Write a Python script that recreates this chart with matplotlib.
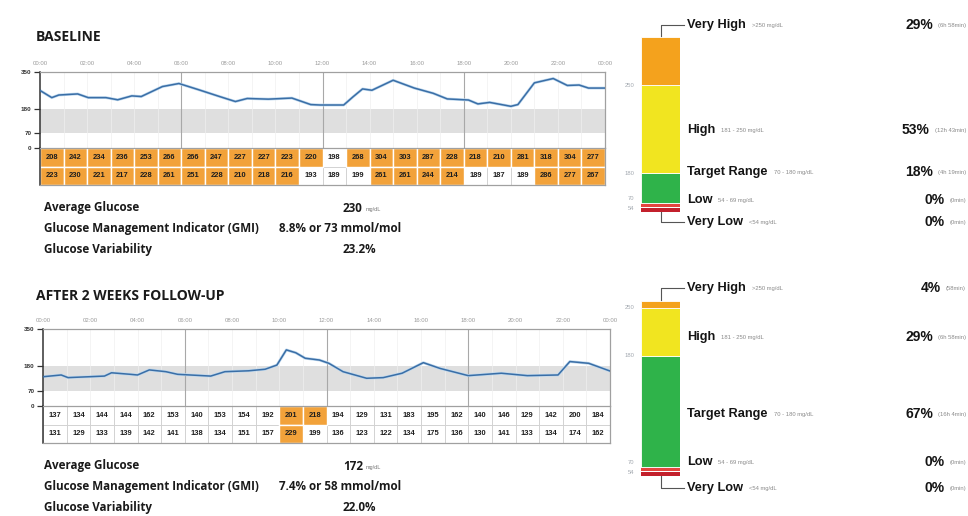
import matplotlib
matplotlib.use("Agg")
import matplotlib.pyplot as plt
from matplotlib.patches import Rectangle

plt.rcParams['font.family'] = ['Liberation Sans', 'DejaVu Sans']

# ---------------- data ----------------
time_labels = ["00:00", "02:00", "04:00", "06:00", "08:00", "10:00", "12:00",
               "14:00", "16:00", "18:00", "20:00", "22:00", "00:00"]
y_ticks = [0, 70, 180, 350]
target_low, target_high = 70, 180
cell_threshold = 200

base_hours = [0.0, 0.5, 0.8, 1.6, 2.05, 2.8, 3.3, 3.9, 4.3, 5.2, 5.9, 6.75, 7.6,
              8.3, 8.8, 9.7, 10.7, 11.5, 11.9, 12.9, 13.3, 13.7, 14.1, 15.0, 15.9,
              16.7, 17.3, 18.2, 18.6, 19.1, 20.0, 20.3, 21.0, 21.8, 22.4, 22.9,
              23.3, 24.0]
base_glucose = [265, 232, 244, 249, 232, 232, 222, 240, 237, 283, 297, 268, 238,
                214, 228, 225, 230, 200, 198, 198, 236, 272, 266, 312, 276,
                252, 226, 221, 203, 210, 192, 200, 300, 320, 288, 290,
                276, 276]
base_row1 = [208, 242, 234, 236, 253, 266, 266, 247, 227, 227, 223, 220,
             198, 268, 304, 303, 287, 228, 218, 210, 281, 318, 304, 277]
base_row2 = [223, 230, 221, 217, 228, 261, 251, 228, 210, 218, 216, 193,
             189, 199, 261, 261, 244, 214, 189, 187, 189, 286, 277, 267]

follow_hours = [0.0, 0.77, 1.06, 2.6, 2.9, 3.7, 4.0, 4.5, 5.2, 5.7, 7.1, 7.7,
                8.7, 9.4, 9.9, 10.3, 10.7, 11.1, 11.7, 12.1, 12.7, 13.7, 14.4,
                15.2, 16.1, 16.8, 18.0, 19.4, 20.5, 21.8, 22.3, 23.1, 24.0]
follow_glucose = [133, 141, 129, 136, 151, 144, 141, 164, 156, 144, 136, 156,
                  160, 167, 186, 255, 242, 217, 209, 194, 156, 126, 129,
                  149, 197, 171, 138, 149, 138, 141, 202, 194, 159]
follow_row1 = [137, 134, 144, 144, 162, 153, 140, 153, 154, 192, 201, 218,
               194, 129, 131, 183, 195, 162, 140, 146, 129, 142, 200, 184]
follow_row2 = [131, 129, 133, 139, 142, 141, 138, 134, 151, 157, 229, 199,
               136, 123, 122, 134, 175, 136, 130, 141, 133, 134, 174, 162]

stat_labels = ["Average Glucose", "Glucose Management Indicator (GMI)",
               "Glucose Variability"]
base_stats = ["230", "8.8% or 73 mmol/mol", "23.2%"]
follow_stats = ["172", "7.4% or 58 mmol/mol", "22.0%"]
avg_unit = "mg/dL"

range_names = ["Very High", "High", "Target Range", "Low", "Very Low"]
range_limits = [">250 mg/dL", "181 - 250 mg/dL", "70 - 180 mg/dL",
                "54 - 69 mg/dL", "<54 mg/dL"]
range_colors = ["#f4a21d", "#f1e520", "#2fb34a", "#e4453f", "#c3202c"]
range_bounds = ["250", "180", "70", "54"]
base_pct = [29, 53, 18, 0, 0]
base_time = ["(6h 58min)", "(12h 43min)", "(4h 19min)", "(0min)", "(0min)"]
follow_pct = [4, 29, 67, 0, 0]
follow_time = ["(58min)", "(6h 58min)", "(16h 4min)", "(0min)", "(0min)"]

# ---------------- figure ----------------
W, H = 968, 516
fig = plt.figure(figsize=(W / 100, H / 100), dpi=100)
fig.patch.set_facecolor("white")
renderer = fig.canvas.get_renderer()


def px_axes(x0, y0, x1, y1):
    return fig.add_axes([x0 / W, 1 - y1 / H, (x1 - x0) / W, (y1 - y0) / H])


BLUE = "#3a6ea6"
HALO = "#bcd7ee"
ORANGE = "#f2a23a"
GRID = "#a0a0a0"


def draw_profile(x0, x1, y_top, y_zero, y_bottom, hours, glucose, row1, row2):
    ax = px_axes(x0, y_top, x1, y_zero)
    ax.set_xlim(0, 24)
    ax.set_ylim(0, 350)
    ax.axhspan(target_low, target_high, color="#dfdfdf", lw=0, zorder=0)
    for h in range(1, 24):
        ax.axvline(h, color="#f0f0f0", lw=0.5, zorder=0.5)
    for h in (6, 12, 18):
        ax.axvline(h, color="#a8a8a8", lw=0.8, zorder=1)
    ax.plot(hours, glucose, color=HALO, lw=2.0, solid_capstyle="round", zorder=2)
    ax.plot(hours, glucose, color=BLUE, lw=1.1, zorder=3)
    ax.xaxis.tick_top()
    ax.set_xticks(range(0, 25, 2))
    ax.set_xticklabels(time_labels, fontsize=4.3, color="#9a9a9a")
    ax.tick_params(axis="x", length=0, pad=4)
    ax.set_yticks(y_ticks)
    ax.set_yticklabels([str(v) for v in y_ticks], fontsize=4.5, color="#333333",
                       fontweight="bold")
    ax.tick_params(axis="y", length=4, width=0.9, color="#333333", pad=2)
    ax.spines["bottom"].set_visible(False)
    for s in ("top", "right"):
        ax.spines[s].set_color(GRID)
        ax.spines[s].set_linewidth(0.9)
    ax.spines["left"].set_color("#333333")
    ax.spines["left"].set_linewidth(1.1)

    tb = px_axes(x0, y_zero, x1, y_bottom)
    tb.set_xlim(0, 24)
    tb.set_ylim(0, 2)
    tb.set_xticks([])
    tb.set_yticks([])
    for r, row in ((1, row1), (0, row2)):
        for i, v in enumerate(row):
            if v <= cell_threshold:
                tb.add_patch(Rectangle((i, r), 1, 1, facecolor="white",
                                       edgecolor="#cfcfcf", lw=0.6, zorder=1))
        for i, v in enumerate(row):
            if v > cell_threshold:
                tb.add_patch(Rectangle((i, r), 1, 1, facecolor=ORANGE,
                                       edgecolor="white", lw=1.0, zorder=2))
        for i, v in enumerate(row):
            tb.text(i + 0.5, r + 0.5, str(v), ha="center", va="center",
                    fontsize=5.4, fontweight="bold", color="#1e1e1e", zorder=3)
    for s in ("top", "right", "bottom"):
        tb.spines[s].set_color(GRID)
        tb.spines[s].set_linewidth(0.9)
    tb.spines["left"].set_color("#333333")
    tb.spines["left"].set_linewidth(1.1)
    return ax


def draw_stats(ov, y_first, values):
    for k, (lab, val) in enumerate(zip(stat_labels, values)):
        y = y_first + k * 20.7
        ov.text(44, y, lab, fontsize=8.4, fontweight="bold", family="Open Sans",
                color="#1a1a1a", va="center", ha="left")
        xv = 279 if k == 1 else 343
        t = ov.text(xv, y, val, fontsize=8.4, fontweight="bold", family="Open Sans",
                    color="#1a1a1a", va="center", ha="left")
        if k == 0:
            bb = t.get_window_extent(renderer)
            ov.text(bb.x1 + 3, y + 1, avg_unit, fontsize=4, color="#777777",
                    va="center", ha="left")


def draw_ranges(ov, top, pct, times, label_ys):
    bar_x0, bar_x1 = 641, 680
    unit_px = 1.66
    lo_ext = 5.6
    bottom = top + (100 + lo_ext) * unit_px
    bx = px_axes(bar_x0, top, bar_x1, bottom)
    bx.set_xlim(0, 1)
    bx.set_ylim(-lo_ext, 100)
    bx.axis("off")
    # stacked main ranges: target at the base, very high on top
    base = 0
    for idx in (2, 1, 0):
        bx.bar(0.5, pct[idx], bottom=base, width=1.0, color=range_colors[idx],
               edgecolor="white", lw=0.6)
        base += pct[idx]
    # zero-share low ranges drawn as thin stripes below the stack
    bx.bar(0.5, 2.0, bottom=-2.6, width=1.0, color=range_colors[3], lw=0)
    bx.bar(0.5, 2.0, bottom=-5.2, width=1.0, color=range_colors[4], lw=0)

    def yp(v):
        return top + (100 - v) * unit_px

    # boundary labels on the left of the bar
    bounds_y = [yp(pct[2] + pct[1]), yp(pct[2]), yp(0) - 4, yp(-3.2)]
    for txt, y in zip(range_bounds, bounds_y):
        ov.text(634, y, txt, fontsize=4.2, color="#a3a9b0", ha="right", va="center")

    xc = (bar_x0 + bar_x1) / 2
    ov.plot([xc, xc, 684], [top, label_ys[0], label_ys[0]], color="#555555", lw=0.8)
    ov.plot([xc, xc, 684], [bottom, label_ys[4], label_ys[4]], color="#555555", lw=0.8)

    for k in range(5):
        y = label_ys[k]
        t = ov.text(687, y, range_names[k], fontsize=9.2, fontweight="bold",
                    color="#141414", ha="left", va="center")
        bb = t.get_window_extent(renderer)
        ov.text(bb.x1 + 6, y + 0.5, range_limits[k], fontsize=4.2, color="#8a8a8a",
                ha="left", va="center")
        tt = ov.text(966, y + 0.5, times[k], fontsize=4.2, color="#8a8a8a",
                     ha="right", va="center")
        bt = tt.get_window_extent(renderer)
        ov.text(bt.x0 - 5, y, f"{pct[k]}%", fontsize=10, fontweight="bold",
                color="#141414", ha="right", va="center")


# overlay in pixel coordinates for free text and leader lines
ov = fig.add_axes([0, 0, 1, 1])
ov.set_xlim(0, W)
ov.set_ylim(H, 0)
ov.axis("off")
ov.patch.set_alpha(0)

ov.text(36, 37, "BASELINE", fontsize=10, fontweight="bold", family="Open Sans",
        color="#1a1a1a", va="center", ha="left")
ov.text(36, 296, "AFTER 2 WEEKS FOLLOW-UP", fontsize=10, fontweight="bold",
        family="Open Sans", color="#1a1a1a", va="center", ha="left")

draw_profile(40, 605, 72, 148, 185, base_hours, base_glucose, base_row1, base_row2)
draw_profile(43, 610, 329, 406, 443, follow_hours, follow_glucose,
             follow_row1, follow_row2)

draw_stats(ov, 208, base_stats)
draw_stats(ov, 466, follow_stats)

draw_ranges(ov, 37, base_pct, base_time, [25, 130, 172, 200, 222])
draw_ranges(ov, 301, follow_pct, follow_time, [288, 337, 414, 462, 488])

fig.savefig("out.png", dpi=100, facecolor="white")
